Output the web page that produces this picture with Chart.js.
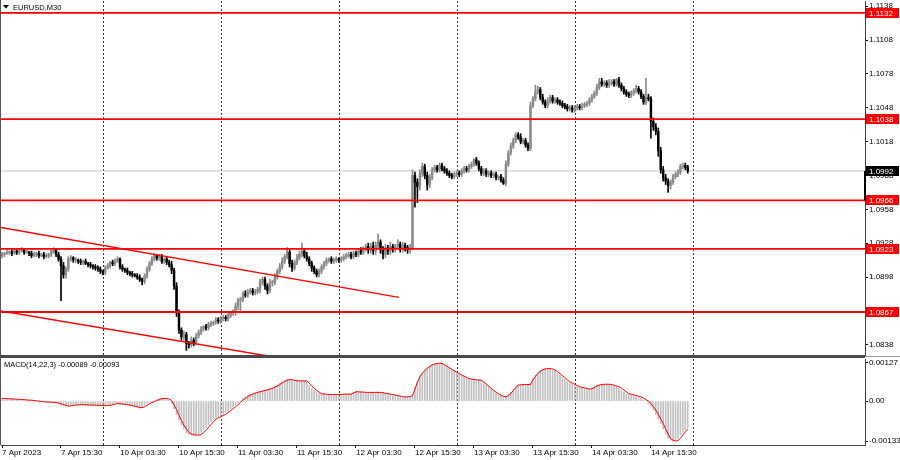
<!DOCTYPE html>
<html>
<head>
<meta charset="utf-8">
<script src="https://cdn.jsdelivr.net/npm/chart.js@4.4.1/dist/chart.umd.min.js"></script>
<style>
  html, body { margin: 0; padding: 0; background: #fff; }
  #wrap { position: relative; width: 900px; height: 460px; overflow: hidden; }
  canvas { position: absolute; left: 0; }
  #main { top: 0; }
  #macd { top: 357px; }
</style>
</head>
<body>
<div id="wrap">
  <canvas id="main" width="900" height="357"></canvas>
  <canvas id="macd" width="900" height="103"></canvas>
</div>
<script>
// ======== DADOS ===========
// EURUSD M30, bar 0 = 7 Apr 03:30 ... bar 279 = 14 Apr 23:00
const firstOpen = 1.0917;
const closes = [
  1.0918, 1.0919, 1.0920, 1.0920, 1.0919, 1.0921, 1.0920, 1.0921, 1.0922, 1.0920,
  1.0920, 1.0919, 1.0917, 1.0918, 1.0919, 1.0917, 1.0918, 1.0916, 1.0917, 1.0918,
  1.0920, 1.0922, 1.0918, 1.0914, 1.0908, 1.0900, 1.0905, 1.0914, 1.0915, 1.0913,
  1.0913, 1.0912, 1.0911, 1.0912, 1.0910, 1.0909, 1.0908, 1.0907, 1.0906, 1.0905,
  1.0903, 1.0902, 1.0906, 1.0908, 1.0911, 1.0910, 1.0912, 1.0914, 1.0907, 1.0905,
  1.0904, 1.0902, 1.0901, 1.0900, 1.0899, 1.0898, 1.0896, 1.0894, 1.0899, 1.0905,
  1.0910, 1.0914, 1.0917, 1.0915, 1.0916, 1.0912, 1.0914, 1.0911, 1.0909, 1.0904,
  1.0890, 1.0866, 1.0851, 1.0845, 1.0847, 1.0839, 1.0838, 1.0842, 1.0840, 1.0846,
  1.0849, 1.0852, 1.0854, 1.0853, 1.0856, 1.0857, 1.0858, 1.0860, 1.0859, 1.0861,
  1.0862, 1.0861, 1.0864, 1.0866, 1.0867, 1.0872, 1.0877, 1.0878, 1.0883, 1.0882,
  1.0885, 1.0886, 1.0884, 1.0885, 1.0887, 1.0893, 1.0896, 1.0890, 1.0886, 1.0893,
  1.0893, 1.0898, 1.0903, 1.0907, 1.0912, 1.0916, 1.0920, 1.0910, 1.0906, 1.0911,
  1.0915, 1.0918, 1.0921, 1.0917, 1.0914, 1.0910, 1.0906, 1.0903, 1.0900, 1.0903,
  1.0907, 1.0910, 1.0913, 1.0914, 1.0912, 1.0913, 1.0914, 1.0913, 1.0914, 1.0916,
  1.0917, 1.0918, 1.0916, 1.0919, 1.0918, 1.0921, 1.0920, 1.0923, 1.0925, 1.0922,
  1.0925, 1.0921, 1.0926, 1.0929, 1.0922, 1.0918, 1.0924, 1.0921, 1.0925, 1.0923,
  1.0925, 1.0927, 1.0923, 1.0926, 1.0924, 1.0922, 1.0924, 1.0988, 1.0982, 1.0978,
  1.0990, 1.0996, 1.0988, 1.0980, 1.0986, 1.0993, 1.0995, 1.0993, 1.0997, 1.0994,
  1.0992, 1.0990, 1.0988, 1.0987, 1.0989, 1.0990, 1.0989, 1.0992, 1.0994, 1.0993,
  1.0996, 1.0998, 1.1002, 1.0999, 1.0994, 1.0990, 1.0992, 1.0989, 1.0990, 1.0988,
  1.0989, 1.0986, 1.0987, 1.0984, 1.0981, 1.0998, 1.1008, 1.1014, 1.1019, 1.1024,
  1.1022, 1.1018, 1.1019, 1.1015, 1.1012, 1.1050, 1.1056, 1.1062, 1.1064, 1.1057,
  1.1053, 1.1050, 1.1054, 1.1057, 1.1054, 1.1055, 1.1053, 1.1052, 1.1050, 1.1049,
  1.1047, 1.1048, 1.1046, 1.1048, 1.1049, 1.1048, 1.1050, 1.1051, 1.1052, 1.1055,
  1.1058, 1.1061, 1.1066, 1.1071, 1.1069, 1.1070, 1.1068, 1.1070, 1.1071, 1.1069,
  1.1073, 1.1068, 1.1065, 1.1062, 1.1060, 1.1059, 1.1061, 1.1063, 1.1065, 1.1062,
  1.1058, 1.1053, 1.1057, 1.1056, 1.1036, 1.1031, 1.1027, 1.1010, 1.0993, 1.0986,
  1.0983, 1.0979, 1.0982, 1.0987, 1.0989, 1.0991, 1.0996, 1.0997, 1.0995, 1.0992
];
// sombras em pips (acima do corpo / abaixo do corpo)
const wickUp = [
  2, 1, 2, 1, 2, 2, 1, 2, 2, 1,   2, 1, 2, 2, 1, 2, 1, 2, 2, 1,
  2, 2, 1, 2, 2, 3, 2, 2, 2, 1,   2, 1, 2, 1, 2, 1, 2, 1, 2, 2,
  2, 1, 2, 2, 1, 2, 2, 2, 1, 2,   1, 2, 1, 2, 1, 2, 2, 1, 2, 2,
  2, 2, 2, 1, 2, 2, 1, 2, 2, 3,   2, 3, 3, 2, 3, 2, 2, 3, 2, 2,
  2, 2, 1, 2, 2, 2, 1, 2, 2, 2,   2, 2, 2, 1, 2, 3, 2, 2, 2, 3,
  2, 2, 2, 2, 2, 3, 2, 2, 2, 3,   2, 3, 2, 3, 3, 2, 4, 3, 3, 2,
  3, 3, 7, 2, 3, 2, 2, 2, 2, 2,   2, 2, 2, 1, 2, 2, 2, 1, 2, 2,
  2, 2, 2, 2, 2, 2, 3, 2, 2, 3,   3, 4, 3, 7, 2, 3, 3, 2, 4, 2,
  2, 4, 2, 3, 2, 2, 3, 5, 3, 3,   3, 3, 2, 3, 3, 2, 2, 2, 2, 2,
  2, 2, 2, 2, 2, 2, 2, 2, 2, 2,   2, 2, 1, 2, 2, 2, 2, 2, 2, 2,
  2, 2, 1, 2, 2, 3, 2, 3, 2, 2,   2, 3, 2, 2, 2, 3, 2, 6, 3, 2,
  3, 2, 3, 2, 2, 2, 2, 2, 2, 2,   2, 2, 2, 2, 2, 2, 2, 2, 2, 2,
  2, 2, 3, 3, 3, 2, 2, 3, 2, 2,   1, 2, 2, 2, 2, 2, 2, 2, 3, 2,
  2, 2, 17, 3, 2, 3, 3, 3, 3, 3,  3, 2, 2, 2, 2, 2, 2, 2, 2, 2
];
const wickDown = [
  2, 2, 1, 2, 2, 1, 2, 2, 1, 2,   1, 2, 2, 1, 2, 2, 1, 2, 1, 2,
  2, 1, 2, 2, 31, 3, 3, 2, 2, 2,  2, 2, 2, 2, 1, 2, 2, 2, 2, 2,
  2, 2, 2, 1, 2, 2, 2, 1, 2, 2,   2, 2, 2, 2, 1, 2, 2, 3, 2, 2,
  2, 2, 2, 2, 2, 2, 2, 2, 2, 3,   3, 3, 3, 3, 3, 6, 3, 2, 3, 2,
  2, 2, 2, 2, 2, 2, 2, 2, 2, 2,   2, 2, 2, 2, 2, 3, 3, 10, 2, 2,
  2, 2, 2, 2, 2, 3, 2, 3, 3, 2,   3, 2, 2, 2, 2, 2, 2, 3, 3, 2,
  2, 2, 2, 2, 2, 2, 3, 2, 2, 2,   2, 2, 2, 2, 2, 2, 2, 2, 2, 2,
  2, 2, 2, 2, 2, 2, 2, 2, 2, 3,   3, 3, 3, 2, 3, 4, 3, 3, 3, 3,
  3, 2, 3, 3, 3, 3, 3, 2, 22, 14, 3, 3, 3, 5, 3, 2, 2, 2, 2, 2,
  2, 2, 2, 2, 2, 2, 2, 2, 2, 2,   2, 2, 2, 2, 2, 2, 2, 2, 2, 2,
  2, 2, 2, 2, 1, 2, 2, 2, 2, 2,   2, 2, 2, 2, 2, 2, 2, 2, 2, 2,
  2, 2, 2, 2, 2, 2, 2, 2, 2, 2,   2, 2, 2, 2, 2, 2, 2, 2, 2, 2,
  2, 2, 2, 2, 2, 2, 2, 2, 2, 2,   2, 2, 2, 2, 2, 2, 2, 2, 2, 2,
  2, 2, 2, 2, 15, 3, 3, 5, 3, 3,  3, 6, 3, 2, 2, 2, 2, 2, 2, 2
];

// MACD(14,22,3) em unidades de 0.00001
const macdMain = [
  9, 8, 8, 7, 7, 6, 6, 5, 5, 4,
  3, 3, 2, 1, 0, -1, -2, -3, -3, -4,
  -4, -5, -6, -9, -14, -15, -17, -17, -14, -13,
  -13, -12, -12, -12, -13, -13, -13, -14, -14, -14,
  -15, -15, -15, -13, -11, -9, -7, -8, -10, -11,
  -12, -13, -15, -17, -19, -21, -23, -20, -14, -8,
  -4, -1, 3, 6, 9, 10, 9, 7, 3, -8,
  -25, -45, -63, -80, -93, -105, -110, -113, -114, -113,
  -111, -105, -97, -88, -78, -69, -60, -56, -52, -48,
  -44, -38, -32, -25, -19, -12, -5, 3, 9, 15,
  20, 23, 26, 29, 31, 33, 35, 37, 40, 42,
  46, 50, 55, 60, 65, 69, 73, 71, 68, 68,
  67, 67, 67, 67, 62, 52, 42, 35, 30, 25,
  24, 23, 22, 22, 22, 22, 22, 22, 23, 23,
  23, 23, 24, 28, 32, 31, 30, 30, 29, 29,
  29, 29, 29, 29, 29, 28, 26, 24, 23, 21,
  20, 18, 16, 15, 14, 14, 15, 22, 45, 65,
  84, 95, 104, 111, 117, 121, 124, 126, 126, 124,
  120, 115, 110, 105, 100, 95, 91, 86, 82, 78,
  75, 73, 72, 71, 70, 68, 62, 55, 48, 40,
  34, 28, 23, 19, 15, 16, 22, 30, 40, 49,
  54, 55, 55, 55, 55, 60, 75, 86, 95, 102,
  106, 108, 108, 107, 104, 99, 93, 86, 79, 72,
  65, 60, 56, 52, 48, 46, 44, 42, 40, 40,
  44, 50, 53, 55, 56, 56, 56, 55, 53, 50,
  48, 43, 37, 31, 25, 23, 21, 19, 16, 14,
  10, 5, 0, -8, -18, -30, -45, -60, -75, -92,
  -110, -124, -130, -133, -131, -124, -113, -102, -95, -89
];
const macdSignal = [
  9, 9, 8, 8, 7, 7, 6, 6, 5, 5,
  4, 3, 3, 2, 1, 0, -1, -2, -3, -3,
  -4, -4, -5, -6, -9, -12, -14, -17, -16, -14,
  -13, -13, -12, -12, -12, -13, -13, -13, -14, -14,
  -14, -15, -15, -15, -14, -12, -10, -8, -9, -10,
  -11, -12, -13, -15, -17, -19, -21, -22, -19, -14,
  -9, -5, -2, 2, 5, 8, 9, 9, 7, 2,
  -13, -28, -47, -64, -80, -92, -104, -109, -112, -113,
  -113, -111, -105, -97, -88, -78, -69, -60, -56, -52,
  -48, -44, -38, -32, -25, -19, -12, -5, 3, 9,
  15, 20, 23, 26, 29, 31, 33, 35, 37, 40,
  42, 46, 50, 55, 60, 65, 69, 72, 71, 69,
  68, 67, 67, 67, 67, 60, 51, 42, 36, 30,
  25, 24, 23, 22, 22, 22, 22, 22, 22, 23,
  23, 23, 23, 27, 31, 31, 30, 30, 29, 29,
  29, 29, 29, 29, 29, 28, 26, 25, 23, 22,
  20, 18, 17, 15, 14, 14, 15, 18, 40, 62,
  81, 92, 101, 109, 115, 120, 123, 125, 126, 125,
  121, 116, 111, 106, 101, 96, 92, 87, 83, 79,
  75, 73, 72, 71, 70, 70, 64, 57, 50, 42,
  36, 30, 25, 20, 16, 14, 18, 25, 35, 45,
  53, 54, 55, 55, 55, 55, 70, 82, 92, 99,
  104, 107, 108, 108, 107, 103, 98, 92, 85, 78,
  71, 64, 60, 56, 52, 48, 46, 44, 42, 40,
  41, 45, 50, 53, 55, 56, 56, 56, 55, 53,
  50, 48, 43, 37, 31, 25, 23, 21, 19, 16,
  14, 10, 5, 0, -8, -18, -30, -44, -60, -74,
  -92, -110, -124, -130, -133, -131, -124, -113, -102, -93
];

const levels = [1.1132, 1.1038, 1.0966, 1.0923, 1.0867];
const priceTicks = [1.1138, 1.1108, 1.1078, 1.1048, 1.1018, 1.0988, 1.0958, 1.0928, 1.0898, 1.0868, 1.0838];
const macdTicks = [0.00127, 0, -0.00133];
const dayStarts = [41, 89, 137, 185, 233, 281];
const timeTicks = [0, 24, 48, 72, 96, 120, 144, 168, 192, 216, 240, 264];
const timeLabels = ['7 Apr 2023', '7 Apr 15:30', '10 Apr 03:30', '10 Apr 15:30', '11 Apr 03:30', '11 Apr 15:30',
  '12 Apr 03:30', '12 Apr 15:30', '13 Apr 03:30', '13 Apr 15:30', '14 Apr 03:30', '14 Apr 15:30'];
const trendUpper = [{ x: -0.8, y: 1.0942 }, { x: 161.5, y: 1.0880 }];
const trendLower = [{ x: -0.8, y: 1.0868 }, { x: 108.2, y: 1.0828 }];

const X_MIN = -0.41, X_MAX = 351.1;
const RED = '#ff0000';
const BULL = '#8a8a8a', BEAR = '#000000';
const FONT = "'Liberation Sans', Arial, sans-serif";

// ======== CANDLES ===========
const opens = closes.map((c, i) => (i ? closes[i - 1] : firstOpen));
const bodies = closes.map((c, i) => ({ x: i, y: [opens[i], c] }));
const wicks = closes.map((c, i) => ({
  x: i,
  y: [Math.min(opens[i], c) - wickDown[i] / 10000, Math.max(opens[i], c) + wickUp[i] / 10000]
}));
const candleColors = closes.map((c, i) => (c >= opens[i] ? BULL : BEAR));
const lastClose = closes[closes.length - 1];

Chart.defaults.font.family = FONT;
Chart.defaults.font.size = 8;
Chart.defaults.color = '#000';

function dashedDays(chart) {
  const { ctx, chartArea: a, scales: { x } } = chart;
  ctx.save();
  ctx.strokeStyle = '#333';
  ctx.lineWidth = 1;
  ctx.setLineDash([2, 2]);
  dayStarts.forEach(d => {
    const px = Math.round(x.getPixelForValue(d)) + 0.5;
    ctx.beginPath();
    ctx.moveTo(px, a.top);
    ctx.lineTo(px, a.bottom);
    ctx.stroke();
  });
  ctx.restore();
}

const mainDeco = {
  id: 'mainDeco',
  beforeDatasetsDraw: dashedDays,
  afterDraw(chart) {
    const { ctx, chartArea: a, scales: { y } } = chart;
    ctx.save();
    ctx.fillStyle = '#555';
    ctx.fillRect(0, 0, 1, chart.height);
    ctx.fillStyle = '#4a4a4a';
    ctx.fillRect(0, 355, a.right, 2);
    ctx.fillStyle = '#999';
    ctx.fillRect(a.right, 356, chart.width - a.right, 1);

    // titulo
    ctx.fillStyle = '#000';
    ctx.beginPath();
    ctx.moveTo(3, 5); ctx.lineTo(9, 5); ctx.lineTo(6, 8.5); ctx.closePath();
    ctx.fill();
    ctx.font = '7.5px ' + FONT;
    ctx.textBaseline = 'middle';
    ctx.fillText('EURUSD,M30', 13, 7.5);

    // marcador preto
    const yTop = y.getPixelForValue(lastClose), yBot = y.getPixelForValue(levels[2]);
    ctx.fillStyle = '#000';
    ctx.fillRect(a.right - 1, yTop, 2, yBot - yTop);

    // caixas de preço
    ctx.font = '8px ' + FONT;
    const box = (v, bg) => {
      const py = Math.round(y.getPixelForValue(v));
      ctx.fillStyle = bg;
      ctx.fillRect(a.right + 1, py - 5, 33, 10);
      ctx.fillStyle = '#fff';
      ctx.fillText(v.toFixed(4), a.right + 4, py + 0.5);
    };
    levels.forEach(v => box(v, RED));
    box(lastClose, '#000');
    ctx.restore();
  }
};

const macdDeco = {
  id: 'macdDeco',
  beforeDatasetsDraw: dashedDays,
  afterDraw(chart) {
    const { ctx, chartArea: a } = chart;
    ctx.save();
    ctx.fillStyle = '#555';
    ctx.fillRect(0, 0, 1, a.bottom);
    ctx.fillStyle = '#4a4a4a';
    ctx.fillRect(0, 0, a.right, 1);
    ctx.fillStyle = '#000';
    ctx.font = '7.5px ' + FONT;
    ctx.textBaseline = 'middle';
    const mLast = macdMain[macdMain.length - 1] / 1e5, sLast = macdSignal[macdSignal.length - 1] / 1e5;
    ctx.fillText('MACD(14,22,3) ' + mLast.toFixed(5) + ' ' + sLast.toFixed(5), 4, 7.5);
    ctx.restore();
  }
};

const levelSets = levels.map(v => ({
  type: 'line',
  data: [{ x: X_MIN, y: v }, { x: X_MAX, y: v }],
  borderColor: RED, borderWidth: 1.8, pointRadius: 0
}));

const trendSets = [trendUpper, trendLower].map(t => ({
  type: 'line', data: t, borderColor: RED, borderWidth: 1.4, pointRadius: 0
}));

// ======== GRÁFICO PRINCIPAL ==========
new Chart(document.getElementById('main'), {
  type: 'bar',
  data: {
    datasets: [
      ...levelSets,
      ...trendSets,
      { data: bodies, backgroundColor: candleColors, barThickness: 1.8, grouped: false, minBarLength: 1 },
      { data: wicks, backgroundColor: candleColors, barThickness: 1, grouped: false },
      {
        type: 'line',
        data: [{ x: X_MIN, y: lastClose }, { x: X_MAX, y: lastClose }],
        borderColor: '#c8c8c8', borderWidth: 1, pointRadius: 0
      }
    ]
  },
  options: {
    responsive: false,
    animation: false,
    events: [],
    layout: { padding: { left: 1, top: 1, right: 0, bottom: 1 } },
    plugins: { legend: { display: false }, tooltip: { enabled: false } },
    scales: {
      x: { type: 'linear', min: X_MIN, max: X_MAX, offset: false, grid: { offset: false }, display: false },
      y: {
        position: 'right',
        min: 1.0828,
        max: 1.11426,
        afterBuildTicks: s => { s.ticks = priceTicks.map(v => ({ value: v })); },
        afterFit: s => { s.width = 35; s.paddingTop = 0; s.paddingBottom = 0; },
        ticks: { callback: v => v.toFixed(4), padding: 1, color: '#000' },
        grid: { drawOnChartArea: false, tickLength: 3, color: '#000' },
        border: { color: '#404040' }
      }
    }
  },
  plugins: [mainDeco]
});

// ======== MACD ==========
new Chart(document.getElementById('macd'), {
  type: 'bar',
  data: {
    datasets: [
      {
        type: 'line',
        data: macdSignal.map((v, i) => ({ x: i, y: v / 1e5 })),
        borderColor: RED, borderWidth: 1, pointRadius: 0
      },
      {
        data: macdMain.map((v, i) => ({ x: i, y: v / 1e5 })),
        backgroundColor: '#c0c0c0', barThickness: 1, grouped: false
      }
    ]
  },
  options: {
    responsive: false,
    animation: false,
    events: [],
    layout: { padding: { left: 1, top: 2, right: 0, bottom: 0 } },
    plugins: { legend: { display: false }, tooltip: { enabled: false } },
    scales: {
      x: {
        type: 'linear', min: X_MIN, max: X_MAX, offset: false,
        afterBuildTicks: s => { s.ticks = timeTicks.map(v => ({ value: v })); },
        afterFit: s => { s.height = 15; s.paddingLeft = 0; s.paddingRight = 0; },
        ticks: { callback: (v, i) => timeLabels[i], align: 'start', autoSkip: false, maxRotation: 0, padding: 0, color: '#000' },
        grid: { drawOnChartArea: false, tickLength: 3, color: '#000', offset: false },
        border: { color: '#404040' }
      },
      y: {
        position: 'right',
        min: -0.00146,
        max: 0.0014,
        afterBuildTicks: s => { s.ticks = macdTicks.map(v => ({ value: v })); },
        afterFit: s => { s.width = 35; s.paddingTop = 0; s.paddingBottom = 0; },
        ticks: { callback: v => (v === 0 ? '0.00' : v.toFixed(5)), padding: 1, color: '#000' },
        grid: { drawOnChartArea: false, tickLength: 3, color: '#000' },
        border: { color: '#404040' }
      }
    }
  },
  plugins: [macdDeco]
});
</script>
</body>
</html>
